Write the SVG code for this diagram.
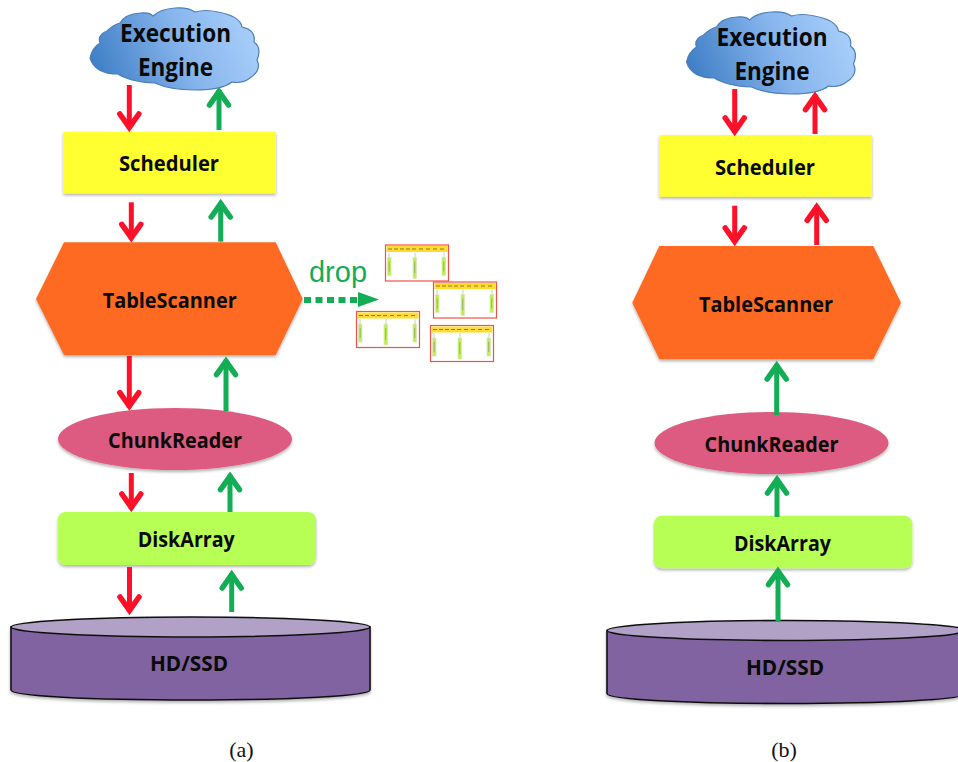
<svg xmlns="http://www.w3.org/2000/svg" width="958" height="762" viewBox="0 0 958 762">
<style>
.lbl{font-family:"Open Sans","Liberation Sans",sans-serif;font-weight:700;fill:#0a0a0a;text-anchor:middle;font-size:21px}
.big{font-size:25px}
.cap{font-family:"Liberation Serif",serif;font-size:22px;fill:#111;text-anchor:middle}
.sched{fill:#ffff33;filter:url(#sh)}
.scan{fill:#ff6a22;filter:url(#sh)}
.chunk{fill:#dd5a80;filter:url(#sh)}
.disk{fill:#b8ff55;filter:url(#sh)}
.r{stroke:#fe1028;stroke-width:5;fill:none;marker-end:url(#mr)}
.g{stroke:#12ad55;stroke-width:5;fill:none;marker-end:url(#mg)}
</style>
<defs>
<filter id="sh" x="-10%" y="-20%" width="120%" height="140%"><feDropShadow dx="0" dy="2" stdDeviation="1.800" flood-color="#000" flood-opacity=".3"/></filter>
<linearGradient id="cg" x1="0" y1="0.6" x2="1" y2="0.4"><stop offset="0" stop-color="#3f7fc6"/><stop offset=".55" stop-color="#86b4ec"/><stop offset="1" stop-color="#a9cffa"/></linearGradient>
<marker id="mr" markerUnits="userSpaceOnUse" markerWidth="32" markerHeight="32" viewBox="-22 -16 32 32" refX="0" refY="0" orient="auto"><path d="M-15,-9.500 L-1.600,0 L-15,9.500" fill="none" stroke="#fe1028" stroke-width="5.500" stroke-linecap="round"/></marker>
<marker id="mg" markerUnits="userSpaceOnUse" markerWidth="32" markerHeight="32" viewBox="-22 -16 32 32" refX="0" refY="0" orient="auto"><path d="M-15,-9.500 L-1.600,0 L-15,9.500" fill="none" stroke="#12ad55" stroke-width="5.500" stroke-linecap="round"/></marker>
<path id="cloud" d="M90,58 Q92,48 100,43 Q97,35 107,31 Q113,25 120,23 Q125,14 140,13 Q150,12 153,16 Q160,9 175,8 Q188,7 195,12 Q205,9 218,12 Q240,16 242,27 Q256,30 254,42 Q262,48 257,60 Q262,70 250,78 Q242,84 232,82 Q222,90 195,90 Q170,90 155,83 Q130,82 118,74 Q95,74 90,58 Z" fill="url(#cg)" stroke="#4a7fb8" stroke-width="1.200"/>
<g id="disk-shape" filter="url(#sh)">
<path d="M11,627 V690 C11,696 90,700 190.500,700 C290,700 370,696 370,690 V627 Z" fill="#8064a0" stroke="#111" stroke-width="1.600"/>
<ellipse cx="190.500" cy="627" rx="179.500" ry="10" fill="#b1a1c6" stroke="#111" stroke-width="1.600"/>
</g>
<g id="mini">
<rect x="0.500" y="0.500" width="63" height="36" fill="#fff" stroke="#f4504a" stroke-width="1.200"/>
<rect x="1.500" y="1.500" width="61" height="6" fill="#ffdc2e"/>
<path d="M3,4.500H7M9,4.500H13M15,4.500H19M21,4.500H25M27,4.500H31M34,4.500H38M41,4.500H45M48,4.500H52M55,4.500H59" stroke="#8a7a30" stroke-width="1"/>
<path d="M4,8V13M30,8V13M59,8V13" stroke="#ccc" stroke-width="1"/>
<rect x="2.500" y="13" width="3.500" height="18" fill="#bdf04a" stroke="#d8e8c0" stroke-width=".800"/>
<rect x="28" y="13" width="3.500" height="21" fill="#bdf04a" stroke="#d8e8c0" stroke-width=".800"/>
<rect x="57" y="13" width="3.500" height="18" fill="#bdf04a" stroke="#d8e8c0" stroke-width=".800"/>
<path d="M4.200,17V27M29.700,17V29M58.700,17V27" stroke="#8fa860" stroke-width=".800"/>
</g>
</defs>
<rect width="958" height="762" fill="#fff"/>

<g id="a-engine"><use href="#cloud"/><text class="lbl big" x="175.500" y="41.500" textLength="111" lengthAdjust="spacingAndGlyphs">Execution</text><text class="lbl big" x="175.500" y="75.500" textLength="75" lengthAdjust="spacingAndGlyphs">Engine</text></g>
<g id="a-scheduler"><rect class="sched" x="63.300" y="131.700" width="212.700" height="61.600"/><text class="lbl" x="169" y="171" textLength="100" lengthAdjust="spacingAndGlyphs">Scheduler</text></g>
<g id="a-scanner"><polygon class="scan" points="36,299 64,242.300 275.700,242.300 302.700,299 275.700,355 64,355"/><text class="lbl" x="169.700" y="308" textLength="134" lengthAdjust="spacingAndGlyphs">TableScanner</text></g>
<g id="a-chunk"><ellipse class="chunk" cx="175" cy="439" rx="117" ry="31"/><text class="lbl" x="175" y="447.500" textLength="134" lengthAdjust="spacingAndGlyphs">ChunkReader</text></g>
<g id="a-disk"><rect class="disk" x="57.700" y="512" width="258.300" height="53" rx="8"/><text class="lbl" x="186.300" y="546.700" textLength="97" lengthAdjust="spacingAndGlyphs">DiskArray</text></g>
<g id="a-hd"><use href="#disk-shape"/><text class="lbl" x="189" y="671" textLength="78" lengthAdjust="spacingAndGlyphs">HD/SSD</text></g>
<g id="a-dropped">
<use href="#mini" x="385" y="244.500"/><use href="#mini" x="433" y="281.500"/><use href="#mini" x="356" y="311"/><use href="#mini" x="430" y="325"/>
<text x="338" y="282" font-family="'Liberation Sans',Arial,sans-serif" font-size="29" fill="#12ad55" text-anchor="middle">drop</text>
</g>

<g id="b-engine"><use href="#cloud" transform="translate(596.500 4)"/><text class="lbl big" x="772" y="45.500" textLength="111" lengthAdjust="spacingAndGlyphs">Execution</text><text class="lbl big" x="772" y="79.500" textLength="75" lengthAdjust="spacingAndGlyphs">Engine</text></g>
<g id="b-scheduler"><rect class="sched" x="659.300" y="135" width="212.700" height="61.700"/><text class="lbl" x="765" y="175" textLength="100" lengthAdjust="spacingAndGlyphs">Scheduler</text></g>
<g id="b-scanner"><polygon class="scan" points="632.300,302.700 659.300,246 873.300,246 901,302.700 873.300,359.300 659.300,359.300"/><text class="lbl" x="766" y="311.700" textLength="134" lengthAdjust="spacingAndGlyphs">TableScanner</text></g>
<g id="b-chunk"><ellipse class="chunk" cx="771.500" cy="443" rx="117" ry="31"/><text class="lbl" x="771.500" y="451.500" textLength="134" lengthAdjust="spacingAndGlyphs">ChunkReader</text></g>
<g id="b-disk"><rect class="disk" x="654" y="515.700" width="258.300" height="52.600" rx="8"/><text class="lbl" x="782.500" y="550.700" textLength="97" lengthAdjust="spacingAndGlyphs">DiskArray</text></g>
<g id="b-hd"><use href="#disk-shape" transform="translate(596 3.500)"/><text class="lbl" x="785" y="675" textLength="78" lengthAdjust="spacingAndGlyphs">HD/SSD</text></g>

<g id="connectors">
<path class="r" d="M129.300,85V129"/><path class="g" d="M219,130V90"/>
<path class="r" d="M131.300,202.300V239.300"/><path class="g" d="M220.700,241.700V202"/>
<path class="r" d="M129.300,356V407.700"/><path class="g" d="M226,411V359.700"/>
<path class="r" d="M131.300,473V509"/><path class="g" d="M230,512V474.700"/>
<path class="r" d="M129.500,567V612"/><path class="g" d="M231.700,612V573"/>
<path d="M304,300H358" stroke="#12ad55" stroke-width="6" stroke-dasharray="7 4.500" fill="none"/>
<polygon points="358,292 379,299.500 358,307" fill="#12ad55"/>
<path class="r" d="M734.700,89V133"/><path class="r" d="M815,134V94.700"/>
<path class="r" d="M734.700,205.700V243"/><path class="r" d="M816.700,245V205.300"/>
<path class="g" d="M776.700,415V364"/><path class="g" d="M777,517V478"/><path class="g" d="M778,621V569.700"/>
</g>
<text class="cap" x="241.500" y="757">(a)</text>
<text class="cap" x="784" y="757">(b)</text>
</svg>
